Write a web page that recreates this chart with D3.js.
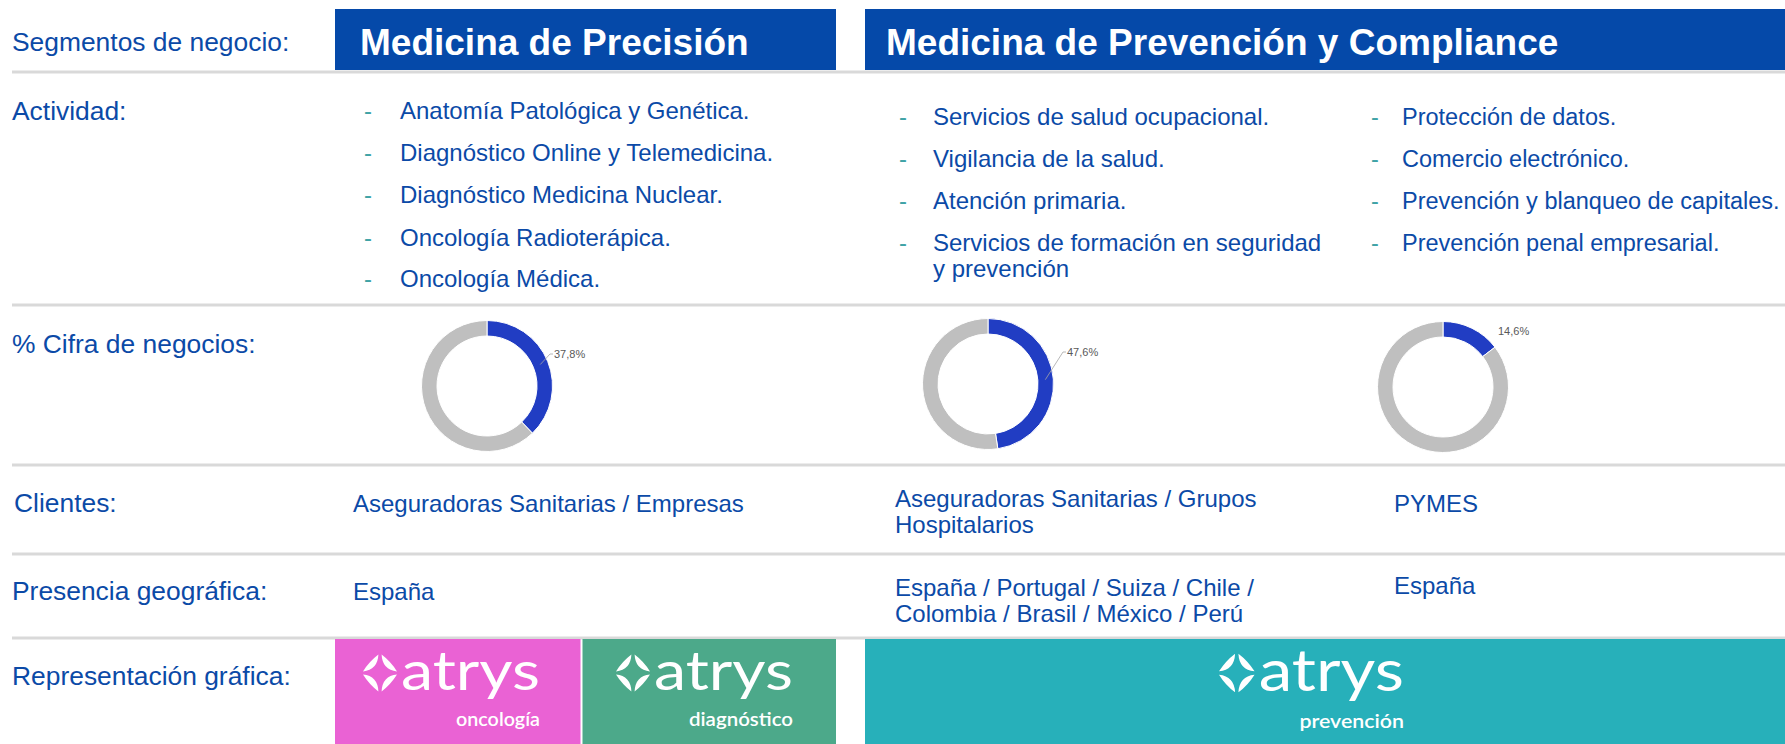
<!DOCTYPE html>
<html>
<head>
<meta charset="utf-8">
<script src="https://cdn.jsdelivr.net/npm/d3@7"></script>
<style>
  html, body { margin: 0; padding: 0; background: #ffffff; }
  svg { display: block; }
</style>
</head>
<body>
<svg id="chart" width="1785" height="744"></svg>
<script>
// ---------------- DATA ----------------
const rowLabels = ["Segmentos de negocio:", "Actividad:", "% Cifra de negocios:", "Clientes:", "Presencia geográfica:", "Representación gráfica:"];
const segments = ["Medicina de Precisión", "Medicina de Prevención y Compliance"];
const activitiesPrecision = ["Anatomía Patológica y Genética.", "Diagnóstico Online y Telemedicina.", "Diagnóstico Medicina Nuclear.", "Oncología Radioterápica.", "Oncología Médica."];
const activitiesPrevention = [["Servicios de salud ocupacional."], ["Vigilancia de la salud."], ["Atención primaria."], ["Servicios de formación en seguridad", "y prevención"]];
const activitiesCompliance = ["Protección de datos.", "Comercio electrónico.", "Prevención y blanqueo de capitales.", "Prevención penal empresarial."];
const shares = [37.8, 47.6, 14.6];
const shareLabels = ["37,8%", "47,6%", "14,6%"];
const clients = [["Aseguradoras Sanitarias / Empresas"], ["Aseguradoras Sanitarias / Grupos", "Hospitalarios"], ["PYMES"]];
const geography = [["España"], ["España / Portugal / Suiza / Chile /", "Colombia / Brasil / México / Perú"], ["España"]];
const brandName = "atrys";
const brandSubs = ["oncología", "diagnóstico", "prevención"];

// ---------------- STYLE / LAYOUT ----------------
const W = 1785, H = 744;
const FONT = "'Liberation Sans', Arial, Helvetica, sans-serif";
const C = {
  headBlue: "#0549a9", text: "#0b4aa7", dash: "#3fa3a6", rule: "#d9d9d9",
  donutBlue: "#213dc3", donutGray: "#bfbfbf", lbl: "#595959",
  pink: "#ea62d4", green: "#4ca98a", teal: "#27b0ba"
};
const svg = d3.select("#chart");

// horizontal rules
const ruleY = [72, 305, 465, 554, 638];
svg.selectAll("line.rule").data(ruleY).join("line")
  .attr("class", "rule").attr("x1", 12).attr("x2", W)
  .attr("y1", d => d).attr("y2", d => d)
  .attr("stroke", C.rule).attr("stroke-width", 3);

// header boxes
const headBoxes = [{x0: 335, x1: 836, tx: 360}, {x0: 865, x1: W, tx: 886}];
const hb = svg.selectAll("g.head").data(segments).join("g").attr("class", "head");
hb.append("rect")
  .attr("x", (d, i) => headBoxes[i].x0).attr("y", 9)
  .attr("width", (d, i) => headBoxes[i].x1 - headBoxes[i].x0).attr("height", 61)
  .attr("fill", C.headBlue);
hb.append("text")
  .attr("x", (d, i) => headBoxes[i].tx).attr("y", 55)
  .attr("font-family", FONT).attr("font-weight", "bold").attr("font-size", 37)
  .attr("fill", "#ffffff").text(d => d);

// row labels
const labelY = [51, 120, 353, 512, 600, 685];
svg.selectAll("text.rowlabel").data(rowLabels).join("text")
  .attr("class", "rowlabel")
  .attr("x", (d, i) => i === 3 ? 14 : 12).attr("y", (d, i) => labelY[i])
  .attr("font-family", FONT).attr("font-size", 26.4).attr("fill", C.text)
  .text(d => d);

// activity lists
function bulletList(items, dashX, textX, ys, fs) {
  const g = svg.append("g");
  items.forEach((lines, i) => {
    const arr = Array.isArray(lines) ? lines : [lines];
    g.append("text").attr("x", dashX).attr("y", ys[i])
      .attr("font-family", FONT).attr("font-size", fs).attr("fill", C.dash).text("-");
    arr.forEach((ln, j) => {
      g.append("text").attr("x", textX).attr("y", ys[i] + j * 26)
        .attr("font-family", FONT).attr("font-size", fs).attr("fill", C.text).text(ln);
    });
  });
}
bulletList(activitiesPrecision, 364, 400, [119, 161, 203, 246, 287], 24);
bulletList(activitiesPrevention, 899, 933, [125, 167, 209, 251], 24);
bulletList(activitiesCompliance, 1371, 1402, [125, 167, 209, 251], 23.5);

// donuts
const donutCenters = [[487, 386], [988, 384], [1443, 387]];
const labelPos = [[554, 354], [1067, 352], [1498, 331]];
const pie = d3.pie().sort(null).value(d => d);
const arc = d3.arc().innerRadius(50).outerRadius(65.5);
const midArc = d3.arc().innerRadius(57.5).outerRadius(57.5);
shares.forEach((v, i) => {
  const g = svg.append("g").attr("transform", `translate(${donutCenters[i][0]},${donutCenters[i][1]})`);
  const arcs = pie([v, 100 - v]);
  g.selectAll("path").data(arcs).join("path")
    .attr("d", arc)
    .attr("fill", (d, k) => k === 0 ? C.donutBlue : C.donutGray)
    .attr("stroke", "#ffffff").attr("stroke-width", 1);
  const c = midArc.centroid(arcs[0]);
  const lx = labelPos[i][0] - donutCenters[i][0];
  const ly = labelPos[i][1] - donutCenters[i][1];
  if (i < 2) {
    g.append("polyline")
      .attr("points", `${c[0]},${c[1]} ${lx - 4},${ly} ${lx - 1},${ly}`)
      .attr("fill", "none").attr("stroke", "#a6a6a6").attr("stroke-width", 0.8);
  }
  g.append("text").attr("x", lx).attr("y", ly + 4)
    .attr("font-family", FONT).attr("font-size", 11).attr("fill", C.lbl)
    .text(shareLabels[i]);
});

// clients & geography
const colX = [353, 895, 1394];
function textCells(rows, ys) {
  rows.forEach((lines, i) => {
    lines.forEach((ln, j) => {
      svg.append("text").attr("x", colX[i]).attr("y", ys[i] + j * 26)
        .attr("font-family", FONT).attr("font-size", 24).attr("fill", C.text).text(ln);
    });
  });
}
textCells(clients, [512, 507, 512]);
textCells(geography, [600, 596, 594]);

// brand boxes
const brandBoxes = [
  {x0: 335, x1: 580.5, fill: C.pink},
  {x0: 582.5, x1: 836, fill: C.green},
  {x0: 865, x1: W, fill: C.teal}
];
const logoLeft = [363, 616, 1219];
const logoScale = [1, 1, 1.045];
const subWidth = [84, 104, 100];
function iconPath(w, h) {
  const gap = 1.6;
  let p = "";
  [[-1, -1], [1, -1], [-1, 1], [1, 1]].forEach(([sx, sy]) => {
    const a = [sx * gap, sy * h];
    const b = [sx * w, sy * gap];
    const m = [(a[0] + b[0]) / 2, (a[1] + b[1]) / 2];
    const out = [m[0] + sx * 1.5, m[1] + sy * 1.5];
    const inn = [m[0] - sx * 7, m[1] - sy * 7];
    p += `M${a[0]},${a[1]}Q${out[0]},${out[1]} ${b[0]},${b[1]}Q${inn[0]},${inn[1]} ${a[0]},${a[1]}Z`;
  });
  return p;
}
brandSubs.forEach((sub, i) => {
  const b = brandBoxes[i];
  svg.append("rect").attr("x", b.x0).attr("y", 639).attr("width", b.x1 - b.x0).attr("height", H - 639)
    .attr("fill", b.fill);
  const s = logoScale[i];
  const g = svg.append("g")
    .attr("transform", `translate(${logoLeft[i]},673) scale(${s}) translate(0,-673)`);
  g.append("path").attr("d", iconPath(17, 18.5)).attr("transform", "translate(17,673)")
    .attr("fill", "#ffffff");
  g.append("text").attr("x", 38).attr("y", 690)
    .attr("font-family", "Lato, 'Open Sans', sans-serif").attr("font-weight", 400)
    .attr("font-size", 55).attr("fill", "#ffffff")
    .attr("textLength", 139).attr("lengthAdjust", "spacingAndGlyphs")
    .text(brandName);
  g.append("text").attr("x", 177 - subWidth[i]).attr("y", 726)
    .attr("font-family", "Lato, 'Open Sans', sans-serif").attr("font-weight", 600)
    .attr("font-size", 19).attr("fill", "#ffffff")
    .attr("textLength", subWidth[i]).attr("lengthAdjust", "spacingAndGlyphs")
    .text(sub);
});
</script>
</body>
</html>
